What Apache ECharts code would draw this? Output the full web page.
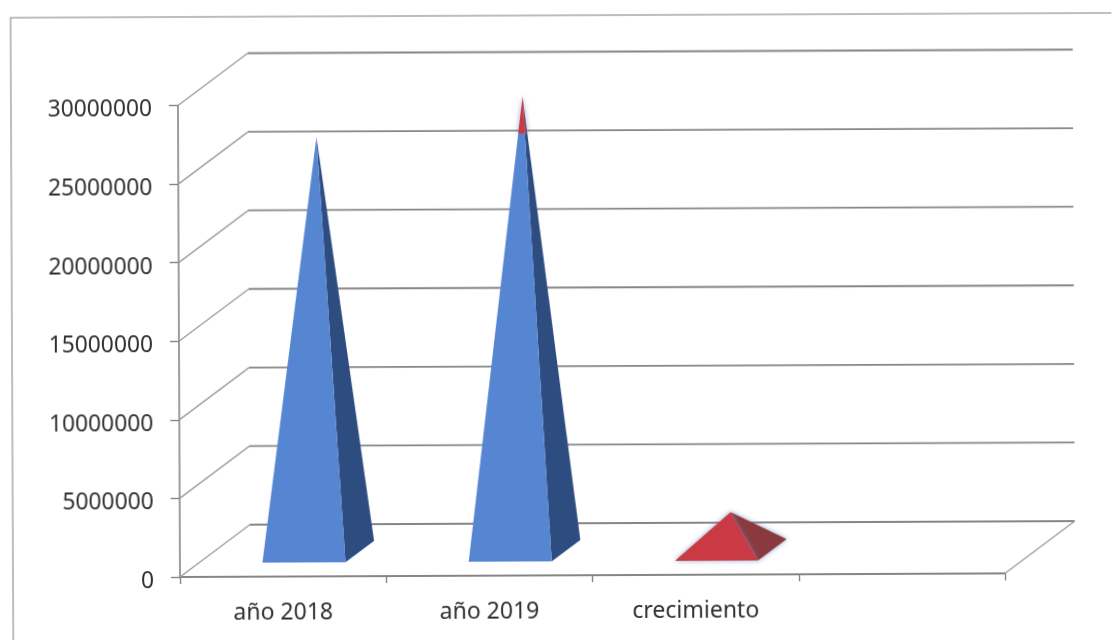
<!DOCTYPE html>
<html>
<head>
<meta charset="utf-8">
<script src="https://cdn.jsdelivr.net/npm/echarts@6/dist/echarts.min.js"></script>
<style>
  html, body { margin: 0; background: #fff; overflow: hidden; }
  #chart { width: 1114px; height: 640px; transform-origin: 180px 577px; transform: rotate(-0.25deg); }
</style>
</head>
<body>
<div id="chart"></div>
<script>
const categories = ['año 2018', 'año 2019', 'crecimiento', ''];
const blueValues = [26400000, 26600000, 0, 0];
const redValues = [0, 2300000, 2400000, 0];
const valueTicks = [0, 5000000, 10000000, 15000000, 20000000, 25000000, 30000000];

// Oblique projection of the chart box: depth runs up and to the right.
const DEPTH_X = 70, DEPTH_Y = 52;
const HALF_WIDTH = 41.5, BAND_SHIFT = 2, DEPTH_FRONT = 0.27, DEPTH_BACK = 0.68;
const GRID_COLOR = '#868686', DIAGONAL_COLOR = '#a0a0a0';

function depthPoint(api, cat, value, u, d) {
  const p = api.coord([cat, value]);
  return [p[0] + BAND_SHIFT + u + DEPTH_X * d, p[1] - DEPTH_Y * d];
}

// Floor and wall lines: one bent line per value tick plus the floor's right edge.
function renderWalls(params, api) {
  const box = params.coordSys;
  const y = api.coord([0, api.value(0)])[1];
  const left = box.x, right = box.x + box.width;
  const children = [
    {
      type: 'line',
      shape: { x1: left, y1: y, x2: left + DEPTH_X, y2: y - DEPTH_Y },
      style: { stroke: DIAGONAL_COLOR, lineWidth: 1.5 }
    },
    {
      type: 'line',
      shape: { x1: left + DEPTH_X, y1: y - DEPTH_Y, x2: right + DEPTH_X, y2: y - DEPTH_Y },
      style: { stroke: GRID_COLOR, lineWidth: 1.8 }
    }
  ];
  if (api.value(0) === 0) {
    children.push({
      type: 'line',
      shape: { x1: right, y1: y, x2: right + DEPTH_X, y2: y - DEPTH_Y },
      style: { stroke: DIAGONAL_COLOR, lineWidth: 1.5 }
    });
  }
  return { type: 'group', children: children };
}

// One section of a pyramid, between two values along its height.
function pyramidRenderer(frontColor, sideColor, glow) {
  return function (params, api) {
    const cat = api.value(0), from = api.value(1), to = api.value(2), total = api.value(3);
    if (to <= from) return null;
    const apex = depthPoint(api, cat, total, 0, (DEPTH_FRONT + DEPTH_BACK) / 2);
    const corner = (u, d) => depthPoint(api, cat, 0, u, d);
    const toward = (c, t) => [c[0] + (apex[0] - c[0]) * t, c[1] + (apex[1] - c[1]) * t];
    const fl = corner(-HALF_WIDTH, DEPTH_FRONT);
    const fr = corner(HALF_WIDTH, DEPTH_FRONT);
    const br = corner(HALF_WIDTH, DEPTH_BACK);
    const t0 = from / total, t1 = to / total;
    const extra = glow ? { shadowBlur: 5, shadowColor: 'rgba(110,130,190,0.75)' } : {};
    return {
      type: 'group',
      children: [
        {
          type: 'polygon',
          shape: { points: [toward(fr, t0), toward(br, t0), toward(br, t1), toward(fr, t1)] },
          style: Object.assign({ fill: sideColor }, extra)
        },
        {
          type: 'polygon',
          shape: { points: [toward(fl, t0), toward(fr, t0), toward(fr, t1), toward(fl, t1)] },
          style: Object.assign({ fill: frontColor }, extra)
        }
      ]
    };
  };
}

const blueData = categories.map((c, i) => [i, 0, blueValues[i], blueValues[i] + redValues[i]]);
const redData = categories.map((c, i) => [i, blueValues[i], blueValues[i] + redValues[i], blueValues[i] + redValues[i]]);

const chart = echarts.init(document.getElementById('chart'));
chart.setOption({
  animation: false,
  backgroundColor: '#fff',
  textStyle: { fontFamily: '"Noto Sans"' },
  graphic: [{
    type: 'rect',
    shape: { x: 13, y: 17, width: 1130, height: 650 },
    style: { fill: null, stroke: '#a8a8a8', lineWidth: 1.5 },
    silent: true
  }],
  grid: { left: 180, right: 109, top: 105.5, bottom: 63, containLabel: false },
  xAxis: {
    type: 'category',
    data: categories,
    axisLine: { lineStyle: { color: GRID_COLOR, width: 1.8 } },
    axisTick: { show: true, length: 7, lineStyle: { color: GRID_COLOR, width: 1.4 } },
    axisLabel: { color: '#303030', fontSize: 23, margin: 25, interval: 0 }
  },
  yAxis: {
    type: 'value',
    min: 0,
    max: 30000000,
    interval: 5000000,
    splitLine: { show: false },
    axisLine: { show: true, lineStyle: { color: GRID_COLOR, width: 1.6 } },
    axisTick: { show: true, length: 9, lineStyle: { color: GRID_COLOR, width: 1.4 } },
    // Top-aligned with a short line box, which sits each number slightly under its tick.
    axisLabel: { color: '#303030', fontSize: 22.8, margin: 26, verticalAlign: 'top', lineHeight: 9, formatter: v => String(v) }
  },
  series: [
    { type: 'custom', name: 'paredes', renderItem: renderWalls, data: valueTicks.map(v => [v]), encode: { y: 0 }, clip: false, silent: true, z: 1 },
    { type: 'custom', name: 'base', renderItem: pyramidRenderer('#5686d2', '#2d4c80', false), data: blueData, clip: false, silent: true, z: 3 },
    { type: 'custom', name: 'crecimiento', renderItem: pyramidRenderer('#c93a44', '#8a3a3c', true), data: redData, clip: false, silent: true, z: 3 }
  ]
});
</script>
</body>
</html>
